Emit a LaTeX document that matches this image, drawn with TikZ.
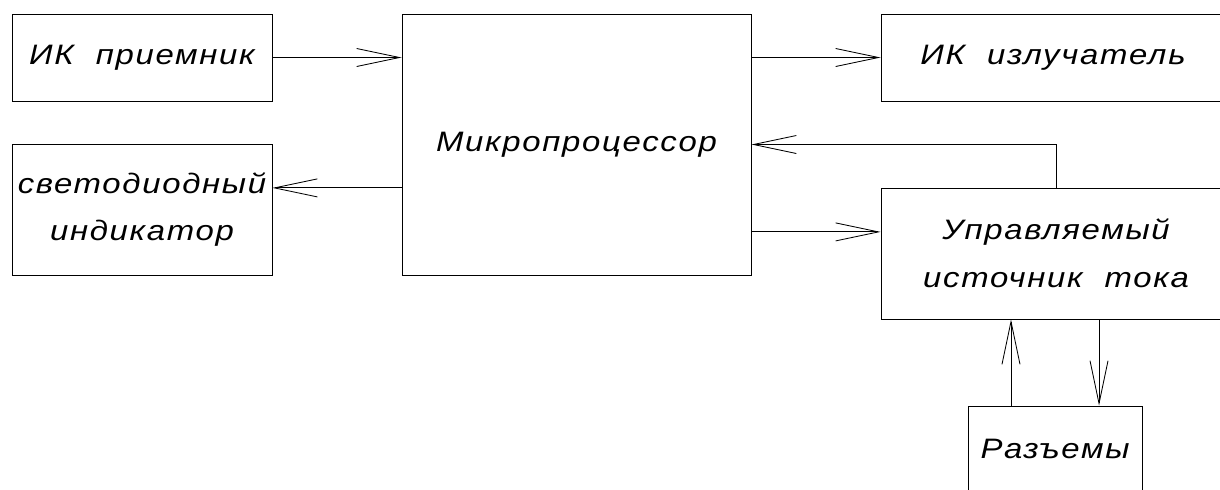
\documentclass[tikz,border=0pt]{standalone}
\usepackage{fontspec}
\newfontfamily\cadfont[FakeStretch=1.17,LetterSpace=6]{Liberation Sans}
\usetikzlibrary{arrows.meta}
\tikzset{every picture/.style={>={Straight Barb[length=1.07cm,width=0.45cm]},line width=0.6pt}}
\tikzset{blok/.style={draw,rectangle,inner sep=0pt,align=center,
    font=\cadfont\itshape\fontsize{20}{34}\selectfont}}
\newcommand\wgap{\hspace{0.55cm}}

\begin{document}
\begin{tikzpicture}[x=0.025cm,y=-0.025cm]
  \useasboundingbox (0,0) rectangle (1220,489);
  % blocks
  \node[blok,minimum width=6.5cm,minimum height=2.175cm] (rx) at (142,57.5) {ИК\wgap приемник};
  \node[blok,minimum width=8.725cm,minimum height=6.525cm] (mp) at (576.5,144.5) {Микропроцессор};
  \node[blok,minimum width=8.6cm,minimum height=2.175cm] (ir) at (1053,57.5) {ИК\wgap излучатель};
  \node[blok,minimum width=6.5cm,minimum height=3.275cm] (led) at (142,209.5) {светодиодный\\индикатор};
  \node[blok,minimum width=8.75cm,minimum height=3.275cm] (src) at (1056,253.5) {Управляемый\\источник\wgap тока};
  \node[blok,minimum width=4.35cm,minimum height=2.15cm] (con) at (1055,449) {Разъемы};
  % connections
  \draw[->] (rx.east) -- (rx.east -| mp.west);
  \draw[->] (ir.west -| mp.east) -- (ir.west);
  \draw[->] ([yshift=0.54cm]led.east -| mp.west) -- ([yshift=0.54cm]led.east);
  \draw[->] (src.north) |- (mp.east);
  \draw[->] ([yshift=0.54cm]src.west -| mp.east) -- ([yshift=0.54cm]src.west);
  \draw[->] ([xshift=-1.1cm]con.north) -- ([xshift=-1.1cm]con.north |- src.south);
  \draw[->] ([xshift=1.1cm]con.north |- src.south) -- ([xshift=1.1cm]con.north);
\end{tikzpicture}
\end{document}
